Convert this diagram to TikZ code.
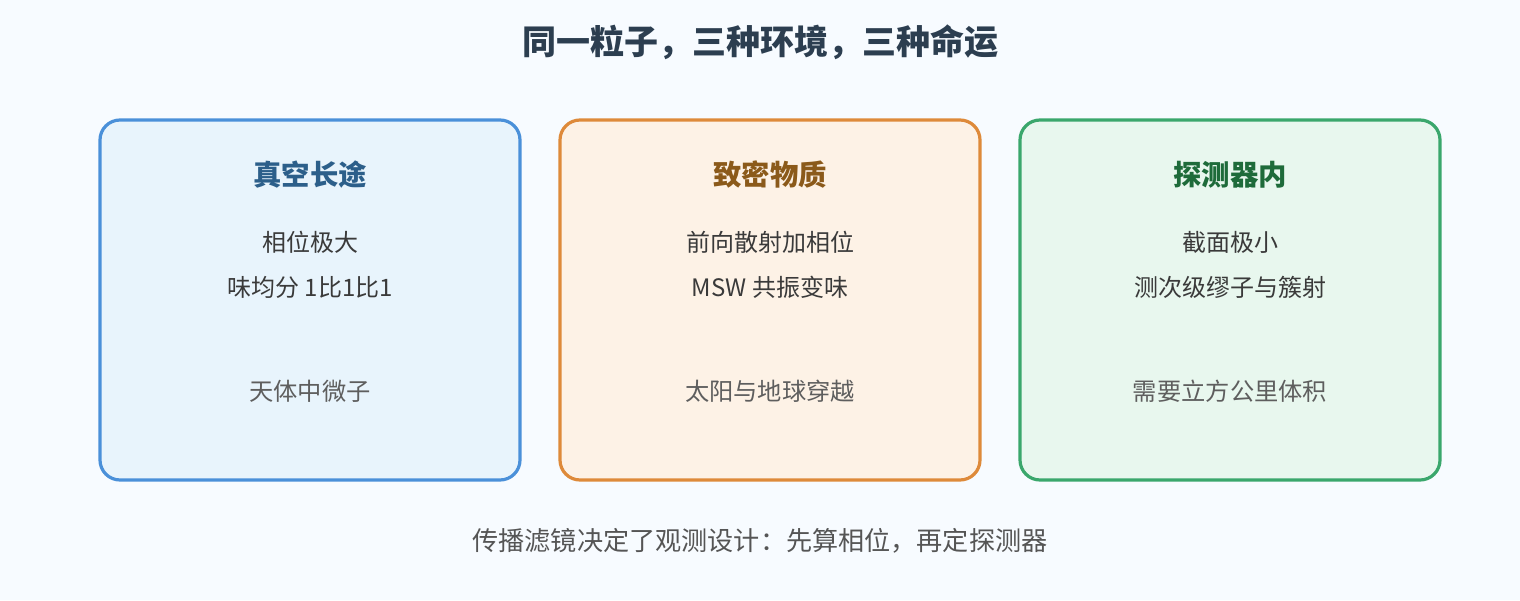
\documentclass[tikz,border=0pt]{standalone}
\usepackage{fontspec}
\setmainfont{Noto Sans CJK SC}
\definecolor{bgc}{HTML}{F7FBFF}
\definecolor{bAb}{HTML}{4A90D9}\definecolor{bAf}{HTML}{E8F4FC}\definecolor{bAt}{HTML}{2C5F8A}
\definecolor{bBb}{HTML}{DE8A3A}\definecolor{bBf}{HTML}{FDF2E6}\definecolor{bBt}{HTML}{8B5A1A}
\definecolor{bCb}{HTML}{3AA76C}\definecolor{bCf}{HTML}{E8F7EE}\definecolor{bCt}{HTML}{1E6B3A}
\definecolor{txtA}{HTML}{3A3A3A}\definecolor{txtB}{HTML}{5E5E5E}\definecolor{hdc}{HTML}{2C3E50}
\tikzset{
  card/.style={draw=#1, line width=2.4pt, rounded corners=15pt, minimum width=315pt, minimum height=270pt, inner sep=0pt},
  cardtitle/.style={text=#1, font=\fontsize{21.3pt}{25pt}\selectfont\bfseries, inner sep=0pt, anchor=center},
  bodytxt/.style={text=txtA, font=\fontsize{18pt}{22pt}\selectfont, inner sep=0pt, anchor=center},
  notetxt/.style={text=txtB, font=\fontsize{18.2pt}{22pt}\selectfont, inner sep=0pt, anchor=center}
}
\begin{document}
\begin{tikzpicture}[x=0.75pt,y=-0.75pt]
\fill[bgc] (0,0) rectangle (1520,600);
\useasboundingbox (0,0) rectangle (1520,600);
\node[text=hdc, font=\fontsize{25.5pt}{30pt}\selectfont\bfseries, inner sep=0pt] (title) at (760,42) {同一粒子，三种环境，三种命运};
% cards
\node[card=bAb, fill=bAf] (c1) at (310,300) {};
\node[card=bBb, fill=bBf] (c2) at (770,300) {};
\node[card=bCb, fill=bCf] (c3) at (1230,300) {};
% card 1
\node[cardtitle=bAt] (t1) at (310,175) {真空长途};
\node[bodytxt] (a1) at (310,242) {相位极大};
\node[bodytxt] (b1) at (310,287) {味均分 1比1比1};
\node[notetxt] (n1) at (310,391) {天体中微子};
% card 2
\node[cardtitle=bBt] (t2) at (770,175) {致密物质};
\node[bodytxt] (a2) at (770,242) {前向散射加相位};
\node[bodytxt] (b2) at (770,287) {MSW 共振变味};
\node[notetxt] (n2) at (770,391) {太阳与地球穿越};
% card 3
\node[cardtitle=bCt] (t3) at (1230,175) {探测器内};
\node[bodytxt] (a3) at (1230,242) {截面极小};
\node[bodytxt] (b3) at (1230,287) {测次级缪子与簇射};
\node[notetxt] (n3) at (1230,391) {需要立方公里体积};
% footer
\node[text=txtB!90!black, font=\fontsize{19.6pt}{24pt}\selectfont, inner sep=0pt] (foot) at (760,541) {传播滤镜决定了观测设计：先算相位，再定探测器};
\end{tikzpicture}
\end{document}
